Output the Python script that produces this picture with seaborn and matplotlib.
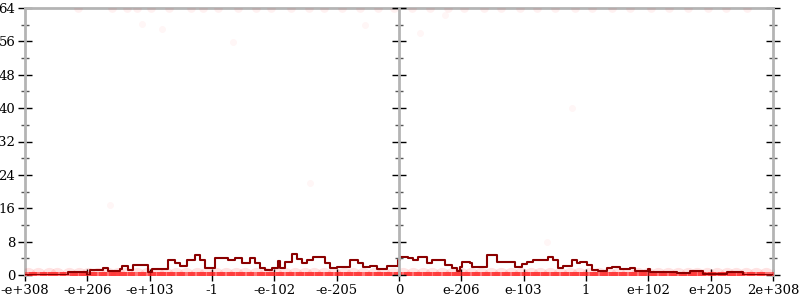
import numpy as np
import pandas as pd
import matplotlib
matplotlib.use("Agg")
import matplotlib.pyplot as plt
import seaborn as sns

# ---- data ----
tick_labels = ["-e+308", "-e+206", "-e+103", "-1", "-e-102", "-e-205", "0",
               "e-206", "e-103", "1", "e+102", "e+205", "2e+308"]
y_ticks = [0, 8, 16, 24, 32, 40, 48, 56, 64]

line_x = [0.00, 0.69, 0.99, 1.04, 1.25, 1.33, 1.52, 1.56, 1.65, 1.73, 1.88, 1.97,
          2.04, 2.13, 2.29, 2.41, 2.49, 2.60, 2.73, 2.81, 2.89, 3.02, 3.05, 3.21,
          3.26, 3.37, 3.48, 3.61, 3.69, 3.77, 3.85, 3.96, 4.06, 4.09, 4.17, 4.28,
          4.36, 4.44, 4.52, 4.62, 4.73, 4.81, 4.89, 5.01, 5.21, 5.34, 5.42, 5.53,
          5.65, 5.81, 5.98, 6.02, 6.14, 6.22, 6.30, 6.45, 6.53, 6.63, 6.74, 6.85,
          6.93, 6.98, 7.01, 7.14, 7.17, 7.33, 7.41, 7.51, 7.57, 7.70, 7.86, 7.97,
          8.05, 8.15, 8.29, 8.39, 8.47, 8.55, 8.63, 8.78, 8.86, 8.90, 9.02, 9.10,
          9.19, 9.34, 9.42, 9.55, 9.71, 9.79, 9.90, 9.99, 10.03, 10.35, 10.46,
          10.67, 10.88, 11.26, 11.52, 12.00]
line_y = [0.1, 0.6, 0.0, 1.2, 1.75, 1.0, 1.5, 2.2, 1.2, 2.4, 2.4, 0.8,
          1.5, 1.5, 3.6, 2.8, 2.2, 3.6, 4.8, 3.6, 1.6, 1.6, 4.0, 4.0,
          3.6, 4.0, 2.8, 4.0, 2.8, 1.6, 1.2, 1.6, 3.3, 1.6, 3.2, 5.0,
          3.8, 2.8, 3.6, 4.4, 4.2, 2.8, 1.6, 1.9, 3.6, 2.8, 2.0, 2.2,
          1.4, 2.2, 3.6, 4.2, 4.0, 3.6, 4.4, 2.8, 3.6, 3.6, 2.4, 1.6,
          1.0, 2.0, 3.2, 2.8, 2.0, 2.0, 4.7, 4.7, 3.2, 3.2, 2.0, 2.6,
          3.2, 3.6, 3.6, 4.2, 3.6, 1.7, 2.2, 3.6, 2.8, 3.2, 2.4, 1.2,
          1.0, 1.6, 2.0, 1.4, 1.7, 1.0, 1.0, 1.4, 0.8, 0.8, 0.4,
          1.0, 0.3, 0.6, 0.1, 0.1]

zero_x = [0.05, 0.21, 0.38, 0.52, 0.70, 0.86, 1.01, 1.17, 1.33, 1.49, 1.62, 1.80,
          1.95, 2.12, 2.27, 2.43, 2.58, 2.76, 2.91, 3.06, 3.22, 3.39, 3.53, 3.70,
          3.86, 4.01, 4.17, 4.33, 4.49, 4.64, 4.80, 4.96, 5.12, 5.27, 5.43, 5.60,
          5.75, 5.90, 6.06, 6.22, 6.38, 6.53, 6.69, 6.85, 7.00, 7.16, 7.32, 7.48,
          7.63, 7.79, 7.95, 8.11, 8.26, 8.42, 8.58, 8.74, 8.89, 9.05, 9.21, 9.37,
          9.52, 9.68, 9.84, 10.00, 10.15, 10.31, 10.47, 10.63, 10.78, 10.94,
          11.10, 11.26, 11.41, 11.57, 11.73, 11.89]
top_x = [0.85, 1.40, 1.63, 1.79, 2.02, 2.31, 2.66, 2.85, 3.10, 3.42, 3.71, 3.95,
         4.26, 4.55, 4.80, 5.08, 5.37, 5.66, 5.92, 6.21, 6.50, 6.78, 7.05, 7.36,
         7.63, 7.94, 8.22, 8.51, 8.83, 9.10, 9.42, 9.70, 10.05, 10.33, 10.64,
         10.96, 11.25, 11.58]
other_x = [1.36, 1.88, 2.20, 3.34, 4.57, 5.45, 6.34, 6.74, 8.37, 8.78]
other_y = [16.8, 60.2, 59.0, 55.8, 22.0, 60.0, 58.0, 62.3, 7.9, 40.0]

line_df = pd.DataFrame({"x": line_x, "y": line_y})
zero_df = pd.DataFrame({"x": zero_x, "y": [0.0] * len(zero_x)})
top_df = pd.DataFrame({"x": top_x, "y": [64.0] * len(top_x)})
other_df = pd.DataFrame({"x": other_x, "y": other_y})

# ---- style ----
sns.set_theme(style="white")
plt.rcParams["font.family"] = ["DejaVu Serif"]

fig = plt.figure(figsize=(8, 3), dpi=100)
left, right = 25 / 800, 773 / 800
bottom, top = 25 / 300, 292 / 300
ax = fig.add_axes([left, bottom, right - left, top - bottom])

grey = "#b4b4b4"
red = "#ff1a1a"
flat = [(-5, -1.6), (5, -1.6), (5, 1.6), (-5, 1.6)]

# faint halo + strong core at zero
sns.scatterplot(data=zero_df, x="x", y="y", ax=ax, color=red, alpha=0.12,
                s=120, linewidth=0, zorder=2, legend=False)
sns.scatterplot(data=zero_df, x="x", y="y", ax=ax, color=red, alpha=0.55,
                s=170, marker=flat, linewidth=0, zorder=2, legend=False)
sns.scatterplot(data=top_df, x="x", y="y", ax=ax, color=red, alpha=0.06,
                s=40, linewidth=0, zorder=2, legend=False)
sns.scatterplot(data=other_df, x="x", y="y", ax=ax, color=red, alpha=0.04,
                s=25, linewidth=0, zorder=2, legend=False)
sns.lineplot(data=line_df, x="x", y="y", ax=ax, color="#8b0000", linewidth=1.5,
             drawstyle="steps-post", zorder=4, legend=False)

ax.set_xlim(0, 12)
ax.set_ylim(0, 64)
ax.set_xticks(range(len(tick_labels)))
ax.set_xticklabels(tick_labels)
ax.set_yticks(y_ticks)
ax.set_yticks([4, 12, 20, 28, 36, 44, 52, 60], minor=True)
ax.set_xlabel("")
ax.set_ylabel("")

for s in ["left", "right", "top"]:
    ax.spines[s].set_color(grey)
    ax.spines[s].set_linewidth(2)
    ax.spines[s].set_zorder(1)
ax.spines["bottom"].set_visible(False)

ax.tick_params(axis="both", which="major", direction="inout", length=10,
               width=1, color="black", labelsize=9.5, pad=2, labelcolor="black")
ax.tick_params(axis="y", which="major", right=True, left=True)
ax.tick_params(axis="y", which="minor", direction="inout", length=6,
               width=1, color="#555555", right=True, left=True)
ax.tick_params(axis="x", which="major", length=9, top=False, bottom=True)

# middle vertical axis at x = 6 ("0")
mid_x = left + (right - left) * 6 / 12
axm = fig.add_axes([mid_x, bottom, 0.0001, top - bottom], sharey=ax)
axm.patch.set_visible(False)
for s in ["right", "top", "bottom"]:
    axm.spines[s].set_visible(False)
axm.spines["left"].set_color(grey)
axm.spines["left"].set_linewidth(2)
axm.set_xticks([])
axm.tick_params(axis="y", which="major", direction="inout", length=10, width=1,
                color="black", labelleft=False, left=True)
axm.tick_params(axis="y", which="minor", direction="inout", length=6, width=1,
                color="#555555", left=True)
axm.set_ylim(0, 64)

fig.savefig("out.png", dpi=100)
